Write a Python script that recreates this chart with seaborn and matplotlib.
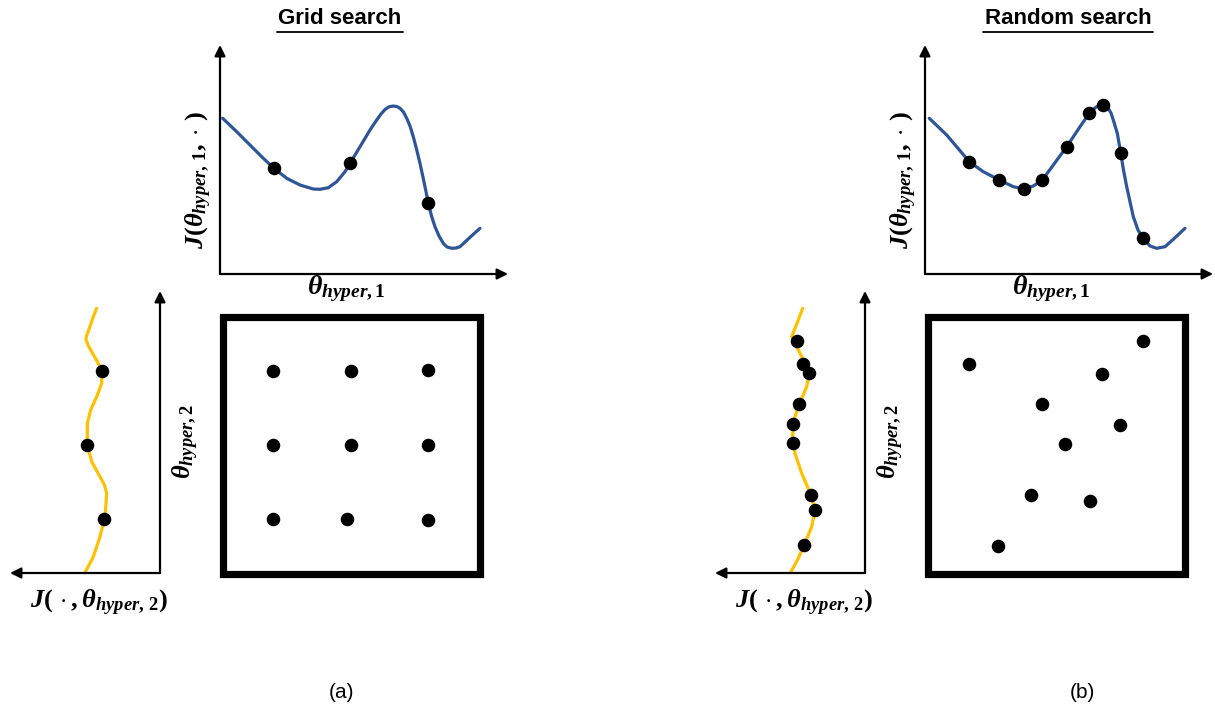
import numpy as np
import pandas as pd
import matplotlib
matplotlib.use('Agg')
import matplotlib.pyplot as plt
import seaborn as sns
from matplotlib.patches import Rectangle

# ── Values (pixel space of the 1215x708 picture) ──
# (a) Grid search: cost along theta_hyper,1
grid_top_x = [222.7, 236.7, 250, 263.3, 274, 286.7, 300, 313.3, 320, 328.3, 336.7, 345, 350,
              360, 370, 376, 381, 385, 389, 393.3, 397, 400, 403.5, 406.7, 410, 413.3, 416.5,
              420, 424, 428.3, 431.5, 435, 439, 443.3, 447, 451.7, 456, 460, 470, 480]
grid_top_y = [118.3, 131.7, 145, 158.3, 168.3, 178.3, 185, 189, 189.3, 187.7, 181.7, 171.7, 163.3,
              146.7, 130, 121, 114, 109.5, 106.8, 106, 106.6, 108.3, 112, 118.3, 126, 136.7, 149,
              163.3, 182, 202.7, 216, 226.7, 236, 243.3, 247, 248.3, 248, 246.7, 237.3, 228.3]
grid_top_dots_x = [274, 350, 428.3]
grid_top_dots_y = [168.3, 163.3, 202.7]

# (a) cost along theta_hyper,2
grid_side_x = [96.7, 93.3, 89.3, 86.5, 86, 88.5, 91.7, 98.3, 101.7, 101.7, 96.7, 90.7, 87.3,
               87.3, 91.7, 100, 104.5, 106.7, 105.3, 104.3, 100, 93.3, 85]
grid_side_y = [308.3, 316.7, 328.3, 336, 340, 346, 351.7, 363.3, 370.7, 383.3, 396.7, 410, 423.3,
               445, 461.7, 476.7, 485, 493.3, 513.3, 519, 536.7, 556.7, 572.7]
grid_side_dots_x = [101.7, 87.3, 104.3]
grid_side_dots_y = [370.7, 445, 519]

# (a) 3x3 grid of trials
grid_pts_x = [272.7, 350.7, 428.3, 272.7, 350.7, 428.3, 272.7, 347, 428.3]
grid_pts_y = [371, 370.7, 370, 445, 445, 445, 519, 519, 520]

# (b) Random search: cost along theta_hyper,1
rand_top_x = [929.3, 946.7, 969.3, 983.3, 999.3, 1013.3, 1024, 1033.3, 1042.3, 1053.3, 1066.7,
              1080, 1089.3, 1093, 1096.7, 1100, 1102.7, 1105.5, 1108.3, 1111, 1113.3, 1117.3,
              1120.7, 1123.5, 1126.7, 1133.3, 1138, 1143.3, 1150, 1156.7, 1165, 1173.3, 1185]
rand_top_y = [118.3, 135, 161.7, 171.7, 180, 186.7, 189, 186, 180, 165, 146.7, 126.7, 113.3,
              109.5, 106.7, 105.5, 105.3, 106.2, 108.3, 113, 120, 133.3, 152.7, 170, 186.7,
              216.7, 230, 238.3, 246, 248.3, 246.7, 239.3, 228.3]
rand_top_dots_x = [969.3, 999.3, 1024, 1042.3, 1066.7, 1089.3, 1102.7, 1120.7, 1143.3]
rand_top_dots_y = [161.7, 180, 189, 180, 146.7, 113.3, 105.3, 152.7, 238.3]

# (b) cost along theta_hyper,2
rand_side_x = [802.7, 798.3, 791.7, 796.7, 803.3, 809.3, 806.7, 799.3, 796, 793.3, 792.7, 795,
               801.7, 811, 815, 811.7, 804, 798.3, 790.7]
rand_side_y = [308.3, 320, 336.7, 346.7, 360, 373.3, 386.7, 404, 413.3, 424.3, 436.7, 453.3,
               473.3, 495, 510, 526.7, 545.3, 558.3, 572.3]
rand_side_dots_x = [796.7, 803.3, 809.3, 799.3, 793.3, 793.3, 811, 815, 804]
rand_side_dots_y = [340.7, 364, 373.3, 404, 424.3, 443.3, 495, 510, 545.3]

# (b) random trials
rand_pts_x = [969.3, 1142.7, 1102.3, 1042.3, 1120.3, 1065.3, 1031.3, 1090.3, 998.3]
rand_pts_y = [364, 341, 373.7, 403.7, 425.3, 444, 495, 500.7, 546]

BLUE = '#2F5597'
GOLD = '#FFC000'

sns.set_theme(style='white')
plt.rcParams['font.family'] = ['Liberation Sans', 'DejaVu Sans']
plt.rcParams['text.color'] = 'black'
plt.rcParams['mathtext.fontset'] = 'custom'
plt.rcParams['mathtext.rm'] = 'Liberation Serif:bold'
plt.rcParams['mathtext.it'] = 'Liberation Serif:italic:bold'
plt.rcParams['mathtext.bf'] = 'Liberation Serif:bold'

fig = plt.figure(figsize=(12.15, 7.08), dpi=100)
ax = fig.add_axes([0, 0, 1, 1])
ax.set_xlim(0, 1215)
ax.set_ylim(708, 0)
ax.axis('off')


def curve(xs, ys, color):
    d = pd.DataFrame({'x': xs, 'y': ys})
    sns.lineplot(data=d, x='x', y='y', sort=False, estimator=None, color=color,
                 lw=2.3, ax=ax, solid_capstyle='round', solid_joinstyle='round')


def dots(xs, ys):
    d = pd.DataFrame({'x': xs, 'y': ys})
    sns.scatterplot(data=d, x='x', y='y', color='black', s=95, linewidth=0, ax=ax, zorder=5)


def arrow(x0, y0, x1, y1):
    ax.annotate('', xy=(x1, y1), xytext=(x0, y0), annotation_clip=False,
                arrowprops=dict(arrowstyle='-|>', mutation_scale=16, lw=1.6,
                                color='black', shrinkA=0, shrinkB=0))


def panel(ox, top, side, top_dots, side_dots, pts, title, title_x, tag, tag_x, uw):
    # top cost curve and axes
    arrow(ox + 220, 274, ox + 220, 45)
    arrow(ox + 220, 274, ox + 508, 274)
    curve(*top, BLUE)
    dots(*top_dots)
    # side cost curve and axes
    arrow(ox + 160, 573, ox + 160, 291)
    arrow(ox + 160, 573, ox + 10, 573)
    curve(*side, GOLD)
    dots(*side_dots)
    # search square
    ax.add_patch(Rectangle((ox + 222.8, 316.8), 257, 257, fill=False, lw=5.2,
                           edgecolor='black', joinstyle='miter'))
    dots(*pts)
    # labels
    ax.text(ox + 199, 180, r'$J(\theta_{hyper,\,1},\cdot\,)$', rotation=90,
            ha='center', va='center', fontsize=19)
    ax.text(ox + 346, 289, r'$\theta_{hyper,1}$', ha='center', va='center', fontsize=20)
    ax.text(ox + 99, 603, r'$J(\,\cdot,\theta_{hyper,\,2})$', ha='center', va='center',
            fontsize=19)
    ax.text(ox + 186, 442, r'$\theta_{hyper,2}$', rotation=90, ha='center', va='center',
            fontsize=19)
    ax.text(title_x, 19, title, ha='center', va='center', fontsize=16, fontweight='bold')
    ax.plot([title_x - uw, title_x + uw], [32, 32], color='black', lw=1.3)
    ax.text(tag_x, 692, tag, ha='center', va='center', fontsize=15)


panel(0, (grid_top_x, grid_top_y), (grid_side_x, grid_side_y),
      (grid_top_dots_x, grid_top_dots_y), (grid_side_dots_x, grid_side_dots_y),
      (grid_pts_x, grid_pts_y), 'Grid search', 340, '(a)', 342, 63)
panel(705, (rand_top_x, rand_top_y), (rand_side_x, rand_side_y),
      (rand_top_dots_x, rand_top_dots_y), (rand_side_dots_x, rand_side_dots_y),
      (rand_pts_x, rand_pts_y), 'Random search', 1068, '(b)', 1082, 85)

plt.savefig('out.png', dpi=100)
plt.close()
